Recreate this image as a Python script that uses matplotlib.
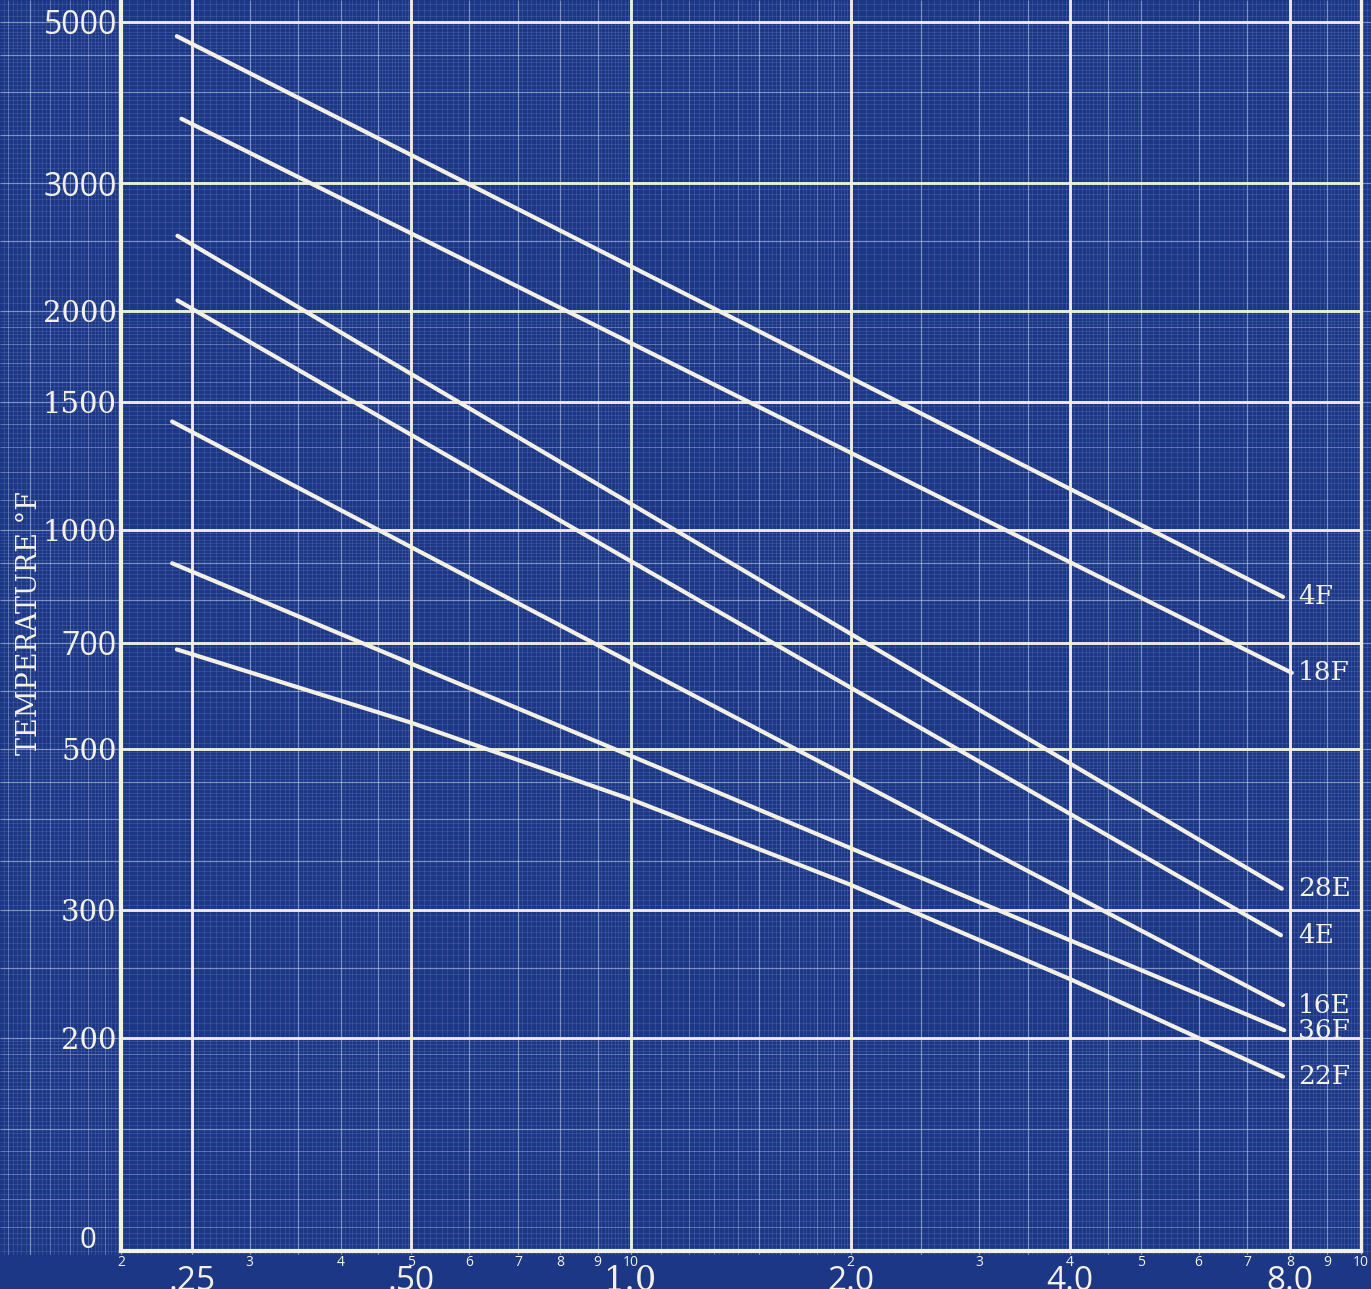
import numpy as np
import matplotlib
matplotlib.use("Agg")
import matplotlib.pyplot as plt
from matplotlib.collections import LineCollection

# Temperature (°F) versus thickness for each material grade
series_names = ["4F", "18F", "28E", "4E", "16E", "36F", "22F"]
thickness = {
    "4F": [0.2385, 7.83],
    "18F": [0.242, 8.05],
    "28E": [0.239, 7.80],
    "4E": [0.239, 7.78],
    "16E": [0.235, 7.83],
    "36F": [0.235, 7.86],
    "22F": [0.2385, 0.5, 1.0, 2.0, 4.0, 7.83],
}
temperature = {
    "4F": [4780, 809],
    "18F": [3680, 636],
    "28E": [2540, 321],
    "4E": [2070, 277],
    "16E": [1410, 222],
    "36F": [900, 205],
    "22F": [685, 543, 426, 325, 241, 177],
}

x_major_ticks = [0.25, 0.5, 1.0, 2.0, 4.0, 8.0]
x_major_labels = [".25", ".50", "1.0", "2.0", "4.0", "8.0"]
x_cycle_ticks = [0.2, 0.3, 0.4, 0.5, 0.6, 0.7, 0.8, 0.9, 1.0,
                 2, 3, 4, 5, 6, 7, 8, 9, 10]
x_cycle_labels = ["2", "3", "4", "5", "6", "7", "8", "9", "10",
                  "2", "3", "4", "5", "6", "7", "8", "9", "10"]
y_ticks = [200, 300, 500, 700, 1000, 1500, 2000, 3000, 5000]
y_labels = ["200", "300", "500", "700", "1000", "1500", "2000", "3000", "5000"]

W, H = 1371, 1289
PAPER = "#1b3786"
INK = "#f4f1e4"
TYPE = ["DejaVu Serif"]
LETTER = ["Open Sans", "DejaVu Sans"]


def xval(px):
    return 10 ** ((px - 631.0) / 729.5)


def yval(py):
    return 1000.0 * 10 ** ((530.0 - py) / 726.8)


def log_paper(lo, hi):
    """Fine, intermediate and medium rulings of log-cycle graph paper."""
    fine, semi, medium = [], [], []
    for e in range(int(np.floor(np.log10(lo))) - 1, int(np.ceil(np.log10(hi))) + 1):
        b = 10.0 ** e
        fine += list(np.arange(1, 2, 0.02) * b)
        fine += list(np.arange(2, 5, 0.05) * b)
        fine += list(np.arange(5, 10, 0.1) * b)
        semi += [m * b for m in (1.1, 1.2, 1.3, 1.4, 1.6, 1.7, 1.8, 1.9)]
        medium += [m * b for m in (1.5, 2, 2.5, 3, 3.5, 4, 4.5, 5, 6, 7, 8, 9, 10)]
    keep = lambda vals: [v for v in vals if lo <= v <= hi]
    return keep(fine), keep(semi), keep(medium)


fig = plt.figure(figsize=(W / 100, H / 100), dpi=100, facecolor=PAPER)

# Background graph paper
paper = fig.add_axes([0, 1 - 1255 / H, 1, 1255 / H])
paper.set_xscale("log")
paper.set_yscale("log")
px_lo, px_hi = xval(0), xval(W)
py_lo, py_hi = yval(1255), yval(0)
paper.set_xlim(px_lo, px_hi)
paper.set_ylim(py_lo, py_hi)
paper.set_facecolor(PAPER)
paper.axis("off")

gx = log_paper(px_lo, px_hi)
gy = log_paper(py_lo, py_hi)
styles = [("#aabde8", 0.55, 0.20), ("#c9d6f5", 0.7, 0.30), ("#dbe4fa", 0.9, 0.45)]
for vx, vy, (col, lw, al) in zip(gx, gy, styles):
    segs = [[(v, py_lo), (v, py_hi)] for v in vx] + [[(px_lo, v), (px_hi, v)] for v in vy]
    paper.add_collection(LineCollection(segs, colors=col, linewidths=lw, alpha=al))

# Plot frame
ax = fig.add_axes([121 / W, 1 - 1251 / H, (1360.5 - 121) / W, 1251 / H])
ax.set_xscale("log")
ax.set_yscale("log")
ax.set_xlim(0.2, 10)
ax.set_ylim(yval(1251), yval(0))
ax.patch.set_alpha(0)

for side in ("left", "bottom", "right"):
    ax.spines[side].set_color(INK)
ax.spines["left"].set_linewidth(3.0)
ax.spines["bottom"].set_linewidth(3.0)
ax.spines["right"].set_linewidth(2.4)
ax.spines["top"].set_visible(False)

ax.xaxis.remove_overlapping_locs = False
ax.set_xticks(x_major_ticks, x_major_labels)
ax.set_xticks(x_cycle_ticks, x_cycle_labels, minor=True)
ax.set_yticks(y_ticks, y_labels)
ax.yaxis.set_minor_locator(matplotlib.ticker.NullLocator())
ax.tick_params(axis="x", which="major", length=0, pad=10, labelsize=24, labelcolor=INK)
ax.tick_params(axis="x", which="minor", length=0, pad=3, labelsize=10, labelcolor=INK)
ax.tick_params(axis="y", which="major", length=0, pad=3, labelsize=21, labelcolor=INK)
for lab in ax.get_xticklabels():
    lab.set_family(TYPE if lab.get_text() == "1.0" else LETTER)
for lab in ax.get_xticklabels(minor=True):
    lab.set_family(LETTER)
for lab in ax.get_yticklabels():
    if lab.get_text() in ("5000", "3000", "700"):
        lab.set_family(LETTER)
        lab.set_fontsize(23)
    else:
        lab.set_family(TYPE)

ax.grid(True, which="major", color=INK, linewidth=2.1, alpha=0.95)

# Material curves, each named in a typed column past the last thickness line
label_x = xval(1298)
for name in series_names:
    xs, ts = thickness[name], temperature[name]
    ax.plot(xs, ts, color=INK, linewidth=3.0, solid_capstyle="round",
            solid_joinstyle="round", zorder=5)
    ax.text(label_x, ts[-1], name, ha="left", va="center", fontsize=19,
            family=TYPE, color=INK, zorder=6)

fig.text(30 / W, 1 - 623 / H, "TEMPERATURE °F", rotation=90, ha="center", va="center",
         fontsize=19.5, family=TYPE, color=INK)
fig.text(88 / W, 1 - 1240 / H, "0", ha="center", va="center",
         fontsize=21, family=LETTER, color=INK)

fig.savefig("out.png", dpi=100, facecolor=PAPER)
